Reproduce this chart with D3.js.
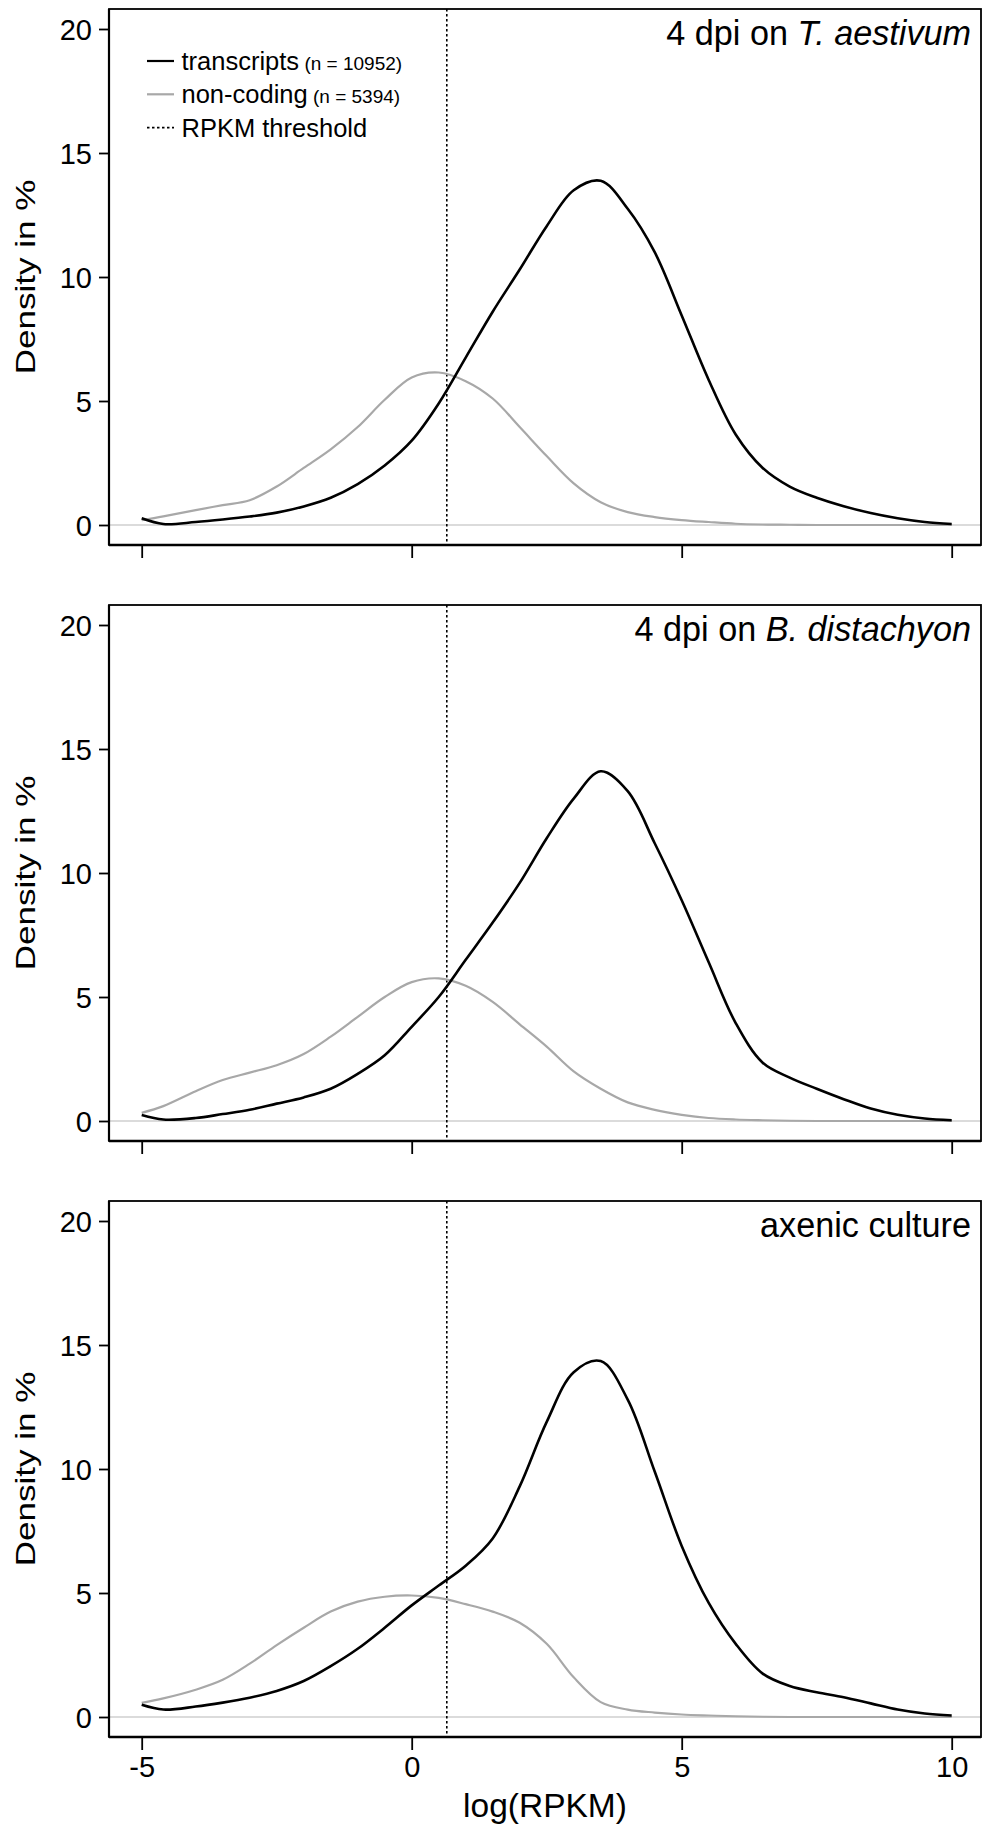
<!DOCTYPE html>
<html>
<head>
<meta charset="utf-8">
<script src="https://cdn.jsdelivr.net/npm/d3@7"></script>
<style>
  html, body { margin: 0; padding: 0; background: #fff; }
  svg { display: block; font-family: "Liberation Sans", Arial, Helvetica, sans-serif; }
</style>
</head>
<body>
<svg id="chart" width="983" height="1827"></svg>
<script>
// ---------- data ----------
const xGrid = [-5, -4.6, -4, -3.5, -3, -2.5, -2, -1.5, -1, -0.5, 0, 0.5, 1, 1.5, 2, 2.5, 3, 3.5, 4, 4.5, 5, 5.5, 6, 6.5, 7, 7.5, 8, 8.5, 9, 9.5, 10];

const panelTitles = [
  [{t: "4 dpi on ", i: false}, {t: "T. aestivum", i: true}],
  [{t: "4 dpi on ", i: false}, {t: "B. distachyon", i: true}],
  [{t: "axenic culture", i: false}]
];

const aestivumTranscripts = [0.27, 0.04, 0.12, 0.22, 0.34, 0.5, 0.75, 1.1, 1.65, 2.4, 3.4, 4.9, 6.75, 8.6, 10.3, 12.05, 13.5, 13.88, 12.75, 11.0, 8.45, 5.85, 3.65, 2.3, 1.55, 1.1, 0.76, 0.48, 0.27, 0.12, 0.04];
const aestivumNoncoding   = [0.2, 0.35, 0.6, 0.8, 1.0, 1.55, 2.3, 3.05, 3.95, 5.05, 5.95, 6.15, 5.8, 5.1, 3.95, 2.78, 1.68, 0.92, 0.52, 0.32, 0.2, 0.12, 0.05, 0.02, 0.01, 0, 0, 0, 0, 0, 0];

const distachyonTranscripts = [0.24, 0.06, 0.12, 0.28, 0.45, 0.7, 0.95, 1.3, 1.9, 2.65, 3.8, 5.0, 6.5, 8.0, 9.6, 11.4, 13.0, 14.1, 13.3, 11.2, 8.9, 6.4, 3.95, 2.35, 1.75, 1.3, 0.88, 0.5, 0.25, 0.1, 0.03];
const distachyonNoncoding   = [0.33, 0.6, 1.2, 1.65, 1.95, 2.25, 2.7, 3.4, 4.2, 5.0, 5.6, 5.75, 5.45, 4.8, 3.9, 3.0, 2.0, 1.3, 0.75, 0.45, 0.25, 0.12, 0.06, 0.03, 0.01, 0, 0, 0, 0, 0, 0];

const axenicTranscripts = [0.49, 0.3, 0.42, 0.58, 0.78, 1.05, 1.45, 2.05, 2.75, 3.6, 4.5, 5.3, 6.1, 7.2, 9.3, 11.9, 13.9, 14.35, 12.8, 9.9, 6.9, 4.6, 2.95, 1.75, 1.25, 1.0, 0.8, 0.55, 0.3, 0.14, 0.06];
const axenicNoncoding   = [0.57, 0.75, 1.1, 1.5, 2.15, 2.9, 3.6, 4.25, 4.65, 4.85, 4.9, 4.8, 4.55, 4.25, 3.8, 2.95, 1.6, 0.6, 0.3, 0.18, 0.1, 0.06, 0.03, 0.01, 0, 0, 0, 0, 0, 0, 0];

const transcriptSeries = [aestivumTranscripts, distachyonTranscripts, axenicTranscripts];
const noncodingSeries  = [aestivumNoncoding, distachyonNoncoding, axenicNoncoding];

const rpkmThreshold = 0.65;
const xTicks = [-5, 0, 5, 10];
const yTicks = [0, 5, 10, 15, 20];
const legendLabels = [
  {main: "transcripts", sub: "(n = 10952)", kind: "transcripts"},
  {main: "non-coding", sub: "(n = 5394)", kind: "noncoding"},
  {main: "RPKM threshold", sub: "", kind: "threshold"}
];

// ---------- layout ----------
const svg = d3.select("#chart");
const left = 109, right = 981;
const panelStep = 596;
const blackCol = "#000", grayCol = "#a8a8a8";
const plainNum = d => String(d);   // hyphen-minus like the original

const x = d3.scaleLinear().domain([-5, 10]).range([141.7, 951.7]);

const line = (yScale) => d3.line()
  .x(d => x(d[0]))
  .y(d => yScale(d[1]))
  .curve(d3.curveCatmullRom.alpha(0.5));

for (let p = 0; p < 3; p++) {
  const zeroY = 525 + p * panelStep;
  const top = zeroY - 516, bottom = zeroY + 20;
  const y = d3.scaleLinear().domain([0, 20]).range([zeroY, zeroY - 496]);
  const g = svg.append("g");

  // zero reference line
  g.append("line")
    .attr("x1", left).attr("x2", right)
    .attr("y1", y(0)).attr("y2", y(0))
    .attr("stroke", "#cfcfcf").attr("stroke-width", 1.6);

  // threshold
  g.append("line")
    .attr("x1", x(rpkmThreshold)).attr("x2", x(rpkmThreshold))
    .attr("y1", top).attr("y2", bottom)
    .attr("stroke", "#000").attr("stroke-width", 1.6)
    .attr("stroke-dasharray", "2.5,2.5");

  // curves
  const nc = xGrid.map((v, i) => [v, noncodingSeries[p][i]]);
  const tr = xGrid.map((v, i) => [v, transcriptSeries[p][i]]);
  g.append("path").attr("d", line(y)(nc))
    .attr("fill", "none").attr("stroke", grayCol).attr("stroke-width", 2.2);
  g.append("path").attr("d", line(y)(tr))
    .attr("fill", "none").attr("stroke", blackCol).attr("stroke-width", 2.6);

  // frame
  g.append("rect")
    .attr("x", left).attr("y", top)
    .attr("width", right - left).attr("height", bottom - top)
    .attr("fill", "none").attr("stroke", "#000").attr("stroke-width", 1.8);
  g.append("line").attr("x1", left).attr("x2", right).attr("y1", bottom).attr("y2", bottom)
    .attr("stroke", "#000").attr("stroke-width", 2.6);
  g.append("line").attr("x1", left).attr("x2", left).attr("y1", top).attr("y2", bottom)
    .attr("stroke", "#000").attr("stroke-width", 2.2);

  // y axis
  const yAxis = d3.axisLeft(y).tickValues(yTicks).tickSize(10).tickPadding(7).tickFormat(plainNum);
  const ya = g.append("g").attr("transform", `translate(${left},0)`).call(yAxis);
  ya.select(".domain").remove();
  ya.selectAll(".tick line").attr("stroke", "#000").attr("stroke-width", 1.8);
  ya.selectAll(".tick text").attr("font-size", 29).attr("fill", "#000")
    .attr("font-family", "Liberation Sans, Arial, sans-serif").attr("dy", "0.36em");

  // x axis
  const xAxis = d3.axisBottom(x).tickValues(xTicks).tickSize(13).tickPadding(6)
    .tickFormat(p === 2 ? plainNum : () => "");
  const xa = g.append("g").attr("transform", `translate(0,${bottom})`).call(xAxis);
  xa.select(".domain").remove();
  xa.selectAll(".tick line").attr("stroke", "#000").attr("stroke-width", 1.8);
  xa.selectAll(".tick text").attr("font-size", 29).attr("fill", "#000")
    .attr("font-family", "Liberation Sans, Arial, sans-serif").attr("dy", "0.72em");

  // y label (stretched along its direction, like the original)
  g.append("text")
    .attr("transform", `translate(35,${(top + bottom) / 2}) rotate(-90) scale(1.25,1)`)
    .attr("text-anchor", "middle")
    .attr("font-size", 28)
    .text("Density in %");

  // panel title
  const t = g.append("text")
    .attr("x", 971).attr("y", 45 + p * panelStep)
    .attr("text-anchor", "end")
    .attr("font-size", 34.2);
  panelTitles[p].forEach(s => {
    t.append("tspan").text(s.t).attr("font-style", s.i ? "italic" : "normal");
  });

  // legend (first panel only)
  if (p === 0) {
    legendLabels.forEach((L, i) => {
      const ry = 61 + i * 33.3;
      const ln = g.append("line")
        .attr("x1", 147).attr("x2", 174).attr("y1", ry).attr("y2", ry)
        .attr("stroke", L.kind === "noncoding" ? grayCol : "#000")
        .attr("stroke-width", L.kind === "threshold" ? 1.6 : 2.2);
      if (L.kind === "threshold") ln.attr("stroke-dasharray", "2.5,2.5");
      const tx = g.append("text").attr("x", 181.5).attr("y", ry + 9).attr("font-size", 25.5);
      tx.append("tspan").text(L.main);
      if (L.sub) tx.append("tspan").attr("font-size", 19).text(" " + L.sub);
    });
  }
}

// x label
svg.append("text")
  .attr("x", 545).attr("y", 1817)
  .attr("text-anchor", "middle")
  .attr("font-size", 33.5)
  .text("log(RPKM)");
</script>
</body>
</html>
